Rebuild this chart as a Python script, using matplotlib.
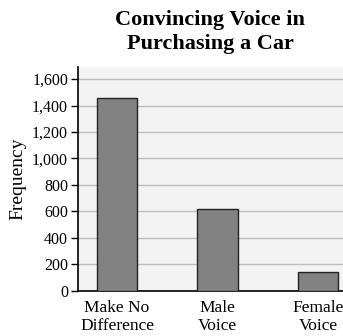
import matplotlib.pyplot as plt
import numpy as np

plt.rcParams['font.family'] = ['Liberation Serif', 'DejaVu Serif']

categories = ['Make No\nDifference', 'Male\nVoice', 'Female\nVoice']
frequency = [1460, 620, 140]
yticks = [0, 200, 400, 600, 800, 1000, 1200, 1400, 1600]
ytick_labels = ['0', '200', '400', '600', '800', '1,000', '1,200', '1,400', '1,600']

fig = plt.figure(figsize=(3.43, 3.36), dpi=100)
ax = fig.add_axes([0.227, 0.135, 0.773, 0.665])
ax.set_facecolor('#f3f3f3')

x = np.arange(len(categories))
ax.bar(x, frequency, width=0.4, color='#828282', edgecolor='#222222', linewidth=1.0, zorder=3)

ax.set_ylim(0, 1690)
ax.set_xlim(-0.39, 2.25)
ax.set_yticks(yticks)
ax.set_yticklabels(ytick_labels, fontsize=11.5)
ax.set_xticks(x)
ax.set_xticklabels(categories, fontsize=12.5, linespacing=1.15)
ax.tick_params(axis='x', length=0, pad=7)
ax.tick_params(axis='y', length=5, width=1, direction='out', pad=2)
ax.yaxis.grid(True, color='#bdbdbd', linewidth=1, zorder=0)

for s in ['top', 'right']:
    ax.spines[s].set_visible(False)
ax.spines['left'].set_linewidth(1.2)
ax.spines['bottom'].set_linewidth(1.2)

ax.set_ylabel('Frequency', fontsize=14, labelpad=4)
ax.set_title('Convincing Voice in\nPurchasing a Car', fontsize=16, fontweight='bold',
             linespacing=1.3, pad=13)

fig.savefig('out.png', dpi=100)
